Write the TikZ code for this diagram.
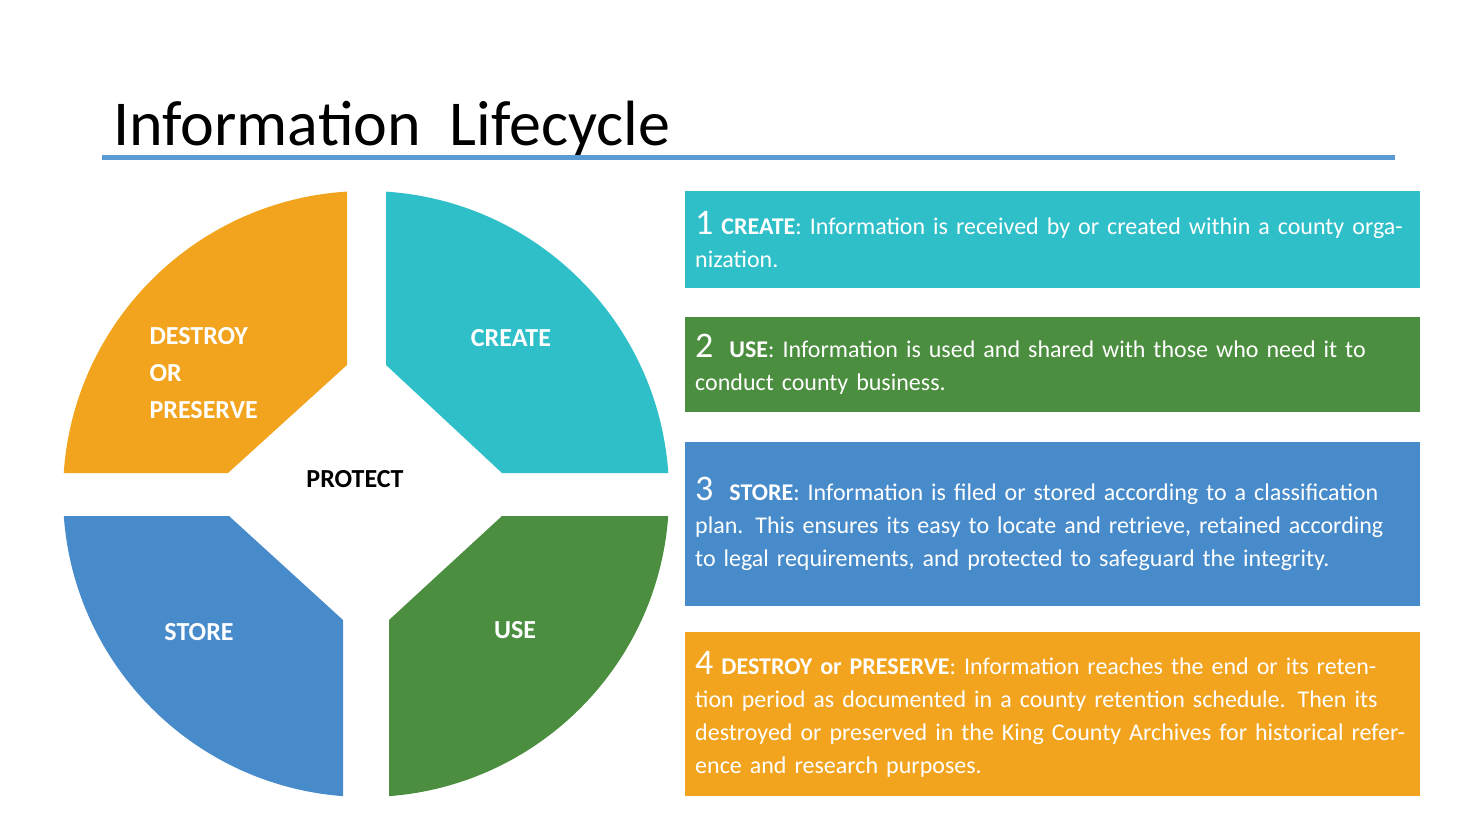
\documentclass[tikz,border=0pt]{standalone}
\usepackage{fontspec}
\setmainfont{Carlito}
\usetikzlibrary{positioning}
\definecolor{lcorange}{HTML}{F2A41F}
\definecolor{lcteal}{HTML}{2FBFC9}
\definecolor{lcgreen}{HTML}{4B8E3F}
\definecolor{lcblue}{HTML}{478BCB}
\definecolor{lcline}{HTML}{5B9BD5}
\newcommand{\lcnum}[1]{{\fontsize{36}{33}\selectfont #1}}
\tikzset{
  quadlabel/.style={text=white, font=\fontsize{26}{37}\selectfont\bfseries, align=left},
  infobox/.style={anchor=north west, minimum width=735pt, text width=715pt, inner xsep=10pt, inner ysep=6pt, text=white, align=left, font=\fontsize{24}{33}\selectfont}
}
\begin{document}
\begin{tikzpicture}[x=1pt,y=-1pt]
\useasboundingbox (0,0) rectangle (1480,833);

% title
\node[anchor=base west, font=\fontsize{64}{70}\selectfont, inner sep=0] (title) at (113,145) {Information\ \ Lifecycle};
\draw[lcline, line width=5pt] (102,157) -- (1395,157);

% wheel
\begin{scope}
\clip (347,150) -- (0,150) -- (0,473) -- (228,473) -- (347,365) -- cycle;
\fill[lcorange] (366,494) circle (303);
\end{scope}
\begin{scope}
\clip (386,150) -- (720,150) -- (720,473) -- (502,473) -- (386,365) -- cycle;
\fill[lcteal] (366,494) circle (303);
\end{scope}
\begin{scope}
\clip (343,840) -- (0,840) -- (0,516) -- (229,516) -- (343,620) -- cycle;
\fill[lcblue] (366,494) circle (303);
\end{scope}
\begin{scope}
\clip (389,840) -- (720,840) -- (720,516) -- (502,516) -- (389,620) -- cycle;
\fill[lcgreen] (366,494) circle (303);
\end{scope}

\node[quadlabel, anchor=west] (destroy) at (146,373) {DESTROY\\OR\\PRESERVE};
\node[quadlabel] (create) at (511,338) {CREATE};
\node[quadlabel] (store) at (199,632) {STORE};
\node[quadlabel] (use) at (515,630) {USE};
\node[font=\fontsize{26}{31}\selectfont\bfseries] (protect) at (355,479) {PROTECT};

% text boxes
\node[infobox, fill=lcteal, minimum height=97pt] (box1) at (685,191)
  {\lcnum{1} \textbf{CREATE}: Information is received by or created within a county organization.};
\node[infobox, fill=lcgreen, minimum height=95pt] (box2) at (685,317)
  {\lcnum{2} \ \textbf{USE}: Information is used and shared with those who need it to conduct county business.};
\node[infobox, fill=lcblue, minimum height=164pt] (box3) at (685,442)
  {\lcnum{3} \ \textbf{STORE}: Information is filed or stored according to a classification plan. This ensures its easy to locate and retrieve, retained according to legal requirements, and protected to safeguard the integrity.};
\node[infobox, fill=lcorange, minimum height=164pt] (box4) at (685,632)
  {\lcnum{4} \textbf{DESTROY or PRESERVE}: Information reaches the end or its retention period as documented in a county retention schedule. Then its destroyed or preserved in the King County Archives for historical reference and research purposes.};
\end{tikzpicture}
\end{document}
